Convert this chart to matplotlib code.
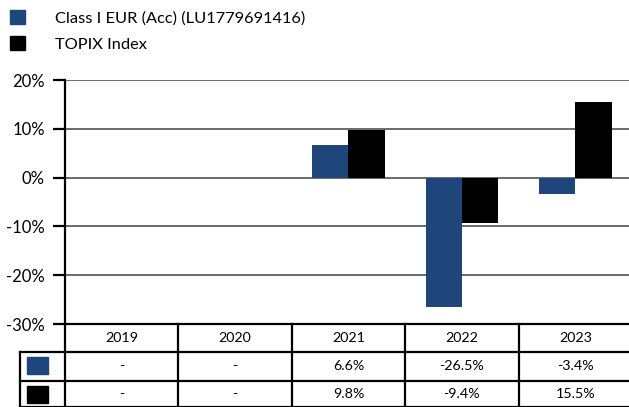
import matplotlib
matplotlib.use("Agg")
import matplotlib.pyplot as plt
from matplotlib.patches import Rectangle
from matplotlib.lines import Line2D
import numpy as np

plt.rcParams['font.family'] = ['Lato', 'DejaVu Sans']

years = ["2019", "2020", "2021", "2022", "2023"]
series_names = ["Class I EUR (Acc) (LU1779691416)", "TOPIX Index"]
fund = [np.nan, np.nan, 6.6, -26.5, -3.4]
index = [np.nan, np.nan, 9.8, -9.4, 15.5]
fund_labels = ["-", "-", "6.6%", "-26.5%", "-3.4%"]
index_labels = ["-", "-", "9.8%", "-9.4%", "15.5%"]
yticks = [-30, -20, -10, 0, 10, 20]
ytick_labels = ["-30%", "-20%", "-10%", "0%", "10%", "20%"]
colors = ["#1f467a", "#000000"]

W, H = 629, 407
fig = plt.figure(figsize=(W / 100, H / 100), dpi=100)
ax_left, ax_right, ax_top, ax_bot = 65, 632, 80, 324
ax = fig.add_axes([ax_left / W, 1 - ax_bot / H, (ax_right - ax_left) / W, (ax_bot - ax_top) / H])

x = np.arange(len(years))
bw = 0.32
ax.bar(x - bw / 2, fund, bw, color=colors[0], zorder=3)
ax.bar(x + bw / 2, index, bw, color=colors[1], zorder=3)

ax.set_xlim(-0.5, len(years) - 0.5)
ax.set_ylim(-30, 20)
ax.set_yticks(yticks)
ax.set_yticklabels(ytick_labels)
ax.set_xticks([])
ax.grid(axis='y', color='#5f5f5f', lw=1.3, zorder=1)
for s in ['top', 'right', 'bottom']:
    ax.spines[s].set_visible(False)
ax.spines['left'].set_linewidth(1.6)
ax.tick_params(axis='y', length=8.5, width=1.6, pad=6, labelsize=12, color='black')

# table below the plot
lw = 1.6
trans = ax.transAxes
def fy(py):
    return (ax_bot - py) / (ax_bot - ax_top)

def px2ax_x(px):
    return (px - ax_left) / (ax_right - ax_left)

rows_y = [324, 352, 381, 407]
key_left = 20
for i, py in enumerate(rows_y):
    x0 = px2ax_x(ax_left) if i == 0 else px2ax_x(key_left)
    ax.add_line(Line2D([x0, 1.0], [fy(py), fy(py)], color='black', lw=lw, transform=trans, clip_on=False))
for k in range(len(years) + 1):
    xv = k / len(years)
    ax.add_line(Line2D([xv, xv], [fy(324), fy(410)], color='black', lw=lw, transform=trans, clip_on=False))
ax.add_line(Line2D([px2ax_x(key_left)] * 2, [fy(352), fy(410)], color='black', lw=lw, transform=trans, clip_on=False))

for r, c in enumerate(colors):
    top = rows_y[1 + r] + 5
    ax.add_patch(Rectangle((px2ax_x(27), fy(top + 17)), px2ax_x(48) - px2ax_x(27), fy(top) - fy(top + 17),
                           color=c, transform=trans, clip_on=False))

fs = 10.3
for i, yr in enumerate(years):
    xc = (i + 0.5) / len(years)
    ax.text(xc, fy(338), yr, ha='center', va='center', fontsize=fs, transform=trans)
    ax.text(xc, fy(366.5), fund_labels[i], ha='center', va='center', fontsize=fs, transform=trans)
    ax.text(xc, fy(394), index_labels[i], ha='center', va='center', fontsize=fs, transform=trans)

handles = [Rectangle((0, 0), 1, 1, color=c) for c in colors]
fig.legend(handles, series_names, loc='upper left', bbox_to_anchor=(0.0, 1.0), frameon=False,
           fontsize=11.8, handlelength=0.95, handleheight=0.95, handletextpad=1.8, labelspacing=0.65,
           borderaxespad=0.3, borderpad=0.3)

fig.savefig("out.png", dpi=100)
